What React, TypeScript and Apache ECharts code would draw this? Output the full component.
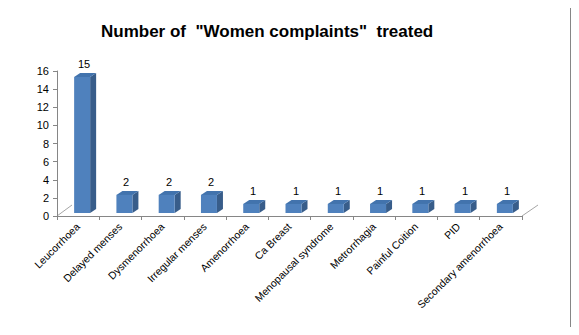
import React, { useEffect, useRef } from "react";
import * as echarts from "echarts";

const categories = [
  "Leucorrhoea",
  "Delayed menses",
  "Dysmenorrhoea",
  "Irregular menses",
  "Amenorrhoea",
  "Ca Breast",
  "Menopausal syndrome",
  "Metrorrhagia",
  "Painful Coition",
  "PID",
  "Secondary amenorrhoea",
];
const values = [15, 2, 2, 2, 1, 1, 1, 1, 1, 1, 1];
const titleText = 'Number of  "Women complaints"  treated';

const FONT = "'Liberation Sans', Arial, sans-serif";

export default function App() {
  const ref = useRef<HTMLDivElement>(null);
  useEffect(() => {
    if (!ref.current) return;
    const chart = echarts.init(ref.current, null, { renderer: "svg" });
    const W = 16, OX = 4, OY = -3, DX = 6, DY = -4;
    chart.setOption({
      animation: false,
      backgroundColor: "#ffffff",
      title: {
        text: titleText,
        left: 96,
        top: 18,
        textStyle: { fontFamily: FONT, fontSize: 17, fontWeight: "bold", color: "#000" },
      },
      grid: { left: 57, right: 57, top: 71, bottom: 119, containLabel: false },
      xAxis: {
        type: "category",
        data: categories,
        boundaryGap: true,
        silent: true,
        axisLine: { lineStyle: { color: "#868686", width: 1 } },
        axisTick: { show: true, length: 4, alignWithLabel: false, lineStyle: { color: "#868686" } },
        axisLabel: { rotate: 45, fontFamily: FONT, fontSize: 10.5, color: "#000", margin: 9, interval: 0 },
        splitLine: { show: false },
      },
      yAxis: {
        type: "value",
        min: 0,
        max: 16,
        interval: 2,
        silent: true,
        axisLine: { show: true, lineStyle: { color: "#868686", width: 1 } },
        axisTick: { show: true, length: 4, lineStyle: { color: "#868686" } },
        axisLabel: { fontFamily: FONT, fontSize: 11, color: "#000", margin: 8 },
        splitLine: { show: false },
      },
      graphic: [
        {
          type: "line",
          silent: true,
          shape: { x1: 57, y1: 216, x2: 72, y2: 205 },
          style: { stroke: "#a6a6a6", lineWidth: 1 },
        },
        {
          type: "line",
          silent: true,
          shape: { x1: 522, y1: 216, x2: 538, y2: 205 },
          style: { stroke: "#a6a6a6", lineWidth: 1 },
        },
        {
          type: "rect",
          silent: true,
          shape: { x: 7.5, y: 7.5, width: 563, height: 320 },
          style: { fill: "none", stroke: "#868686", lineWidth: 1 },
          z: -1,
        },
      ],
      series: [
        {
          type: "custom",
          silent: true,
          emphasis: { disabled: true },
          data: values.map((v, i) => [i, v]),
          encode: { x: 0, y: 1 },
          renderItem: (params: any, api: any) => {
            const idx = api.value(0);
            const val = api.value(1);
            const top = api.coord([idx, val]);
            const base = api.coord([idx, 0]);
            const x = top[0] - W / 2 + OX;
            const yt = top[1] + OY;
            const yb = base[1] + OY;
            return {
              type: "group",
              children: [
                {
                  type: "polygon",
                  shape: { points: [[x + W, yt], [x + W + DX, yt + DY], [x + W + DX, yb + DY], [x + W, yb]] },
                  style: { fill: "#385d8a" },
                },
                {
                  type: "polygon",
                  shape: { points: [[x, yt], [x + DX, yt + DY], [x + W + DX, yt + DY], [x + W, yt]] },
                  style: { fill: "#4273ad" },
                },
                {
                  type: "rect",
                  shape: { x, y: yt, width: W, height: yb - yt },
                  style: { fill: "#4f81bd" },
                },
                {
                  type: "text",
                  style: {
                    text: String(val),
                    x: Math.round(x + W / 2 + 2),
                    y: Math.round(yt + DY - 4),
                    textAlign: "center",
                    textVerticalAlign: "bottom",
                    fontFamily: FONT,
                    fontSize: 11,
                    fill: "#000000",
                  },
                },
              ],
            };
          },
        },
      ],
    });
    return () => chart.dispose();
  }, []);
  return <div ref={ref} style={{ width: 579, height: 335, margin: -8 }} />;
}
